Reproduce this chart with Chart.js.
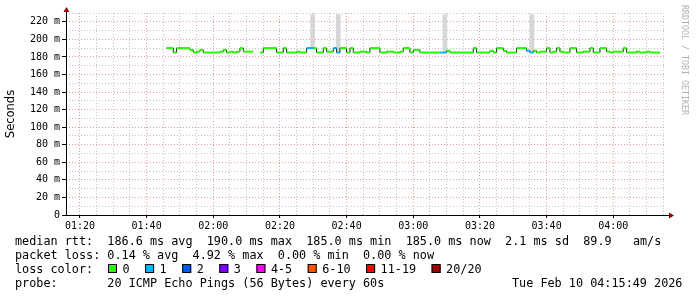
<!DOCTYPE html>
<html>
<head>
<meta charset="utf-8">
<script src="https://cdn.jsdelivr.net/npm/chart.js@4/dist/chart.umd.min.js"></script>
<style>
  html, body { margin: 0; padding: 0; background: #fff; }
  #wrap { position: relative; width: 697px; height: 297px; }
</style>
</head>
<body>
<div id="wrap"><canvas id="c" width="697" height="297"></canvas></div>
<script>
// ------------------------
// Data
// ------------------------
const stepTimes = ['01:46','01:48','01:49','01:53','01:54','01:55','01:56','01:57','02:02','02:03',
  '02:04','02:05','02:06','02:07','02:08','02:09','02:12','02:14','02:15','02:19',
  '02:21','02:22','02:25','02:26','02:28','02:30','02:31','02:33','02:34','02:36',
  '02:37','02:38','02:40','02:41','02:42','02:44','02:46','02:47','02:50','02:52',
  '02:54','02:56','02:57','02:59','03:00','03:02','03:08','03:10','03:11','03:18',
  '03:19','03:23','03:24','03:25','03:27','03:28','03:31','03:34','03:35','03:36',
  '03:37','03:38','03:40','03:41','03:42','03:43','03:44','03:45','03:47','03:49',
  '03:51','03:53','03:54','03:56','03:58','03:59','04:00','04:03','04:04','04:07',
  '04:08','04:10','04:11','04:14'];
const medianRtt = [190,185,190,188,185,186,188,185,186,188,
  185,186,185,186,190,186,null,185,190,185,
  190,185,186,185,190,190,185,190,186,190,
  185,190,185,190,185,186,185,190,185,186,
  185,186,190,185,188,185,185,187,185,190,
  185,187,185,190,187,185,190,187,185,187,
  185,186,190,185,186,190,186,185,190,185,
  186,190,185,190,186,185,186,190,185,186,
  185,186,185,185];
const lostPings = [0,0,0,0,0,0,0,0,0,0,
  0,0,0,0,0,0,0,0,0,0,
  0,0,0,0,1,0,0,0,0,1,
  1,0,0,0,0,0,0,0,0,0,
  0,0,0,0,0,0,1,0,0,0,
  0,0,0,0,0,0,0,1,1,0,
  0,0,0,0,0,0,0,0,0,0,
  0,0,0,0,0,0,0,0,0,0,
  0,0,0,0];

// smoke (spread of the 20 pings) where it shows
const smokeTimes = ['02:29:48','02:37:30','03:09:30','03:35:36'];
const smokeLow = [190, 185, 185, 185];
const smokeHigh = [228, 228, 228, 228];

const lossLabels = ['0','1','2','3','4-5','6-10','11-19','20/20'];
const lossColors = ['#26ff00','#00b8ff','#0059ff','#7e00ff','#ff00ff','#ff5500','#ff0000','#a10000'];

const xStart = '01:15:49';
const xEnd = '04:15:49';
const yMax = 230;

const statsLines = [
  'median rtt:  186.6 ms avg  190.0 ms max  185.0 ms min  185.0 ms now  2.1 ms sd  89.9   am/s',
  'packet loss: 0.14 % avg  4.92 % max  0.00 % min  0.00 % now'
];
const probeText = 'probe:       20 ICMP Echo Pings (56 Bytes) every 60s';
const stampText = 'Tue Feb 10 04:15:49 2026';

// ------------------------
// Helpers
// ------------------------
const toMin = (s) => {
    const p = s.split(':').map(Number);
    return p[0] * 60 + p[1] + (p[2] || 0) / 60;
};
const fmtMin = (v) => {
    const h = Math.floor(v / 60), m = Math.round(v % 60);
    return String(h).padStart(2, '0') + ':' + String(m).padStart(2, '0');
};
const lossColor = (n) => {
    if (n <= 3) return lossColors[n];
    if (n <= 5) return lossColors[4];
    if (n <= 10) return lossColors[5];
    if (n < 20) return lossColors[6];
    return lossColors[7];
};

const t = stepTimes.map(toMin);

// black step line (gives the thin vertical joins)
const stepPts = t.map((x, i) => ({ x, y: medianRtt[i] }));

// coloured horizontal pieces, one per sample
const hPts = [], hCol = [];
for (let i = 0; i < t.length - 1; i++) {
    if (medianRtt[i] === null) continue;
    const c = lossColor(lostPings[i]);
    hPts.push({ x: t[i], y: medianRtt[i] }, { x: t[i + 1], y: medianRtt[i] }, { x: t[i + 1], y: null });
    hCol.push(c, c, c);
}

const smokePts = smokeTimes.map((s, i) => ({ x: toMin(s), y: [smokeLow[i], smokeHigh[i]] }));

const MONO = '"DejaVu Sans Mono", monospace';
const MAJOR = '#e99c9c';
const MINOR = '#c4c4c4';

// ------------------------
// Extra drawing: axes, arrows, legend text
// ------------------------
const decor = {
    id: 'decor',
    afterDraw(chart) {
        const ctx = chart.ctx;
        const a = chart.chartArea;
        const x0 = Math.round(a.left) + 0.5;
        const y0 = Math.round(a.bottom) + 0.5;
        ctx.save();
        ctx.strokeStyle = '#000';
        ctx.lineWidth = 1;
        ctx.beginPath();
        ctx.moveTo(x0, y0);
        ctx.lineTo(x0, a.top - 2);
        ctx.moveTo(a.left - 4, y0);
        ctx.lineTo(a.right + 3, y0);
        ctx.stroke();
        ctx.fillStyle = '#8b0000';
        ctx.beginPath();
        ctx.moveTo(x0, a.top - 6);
        ctx.lineTo(x0 - 3, a.top - 1);
        ctx.lineTo(x0 + 3, a.top - 1);
        ctx.closePath();
        ctx.fill();
        ctx.beginPath();
        ctx.moveTo(a.right + 8, y0);
        ctx.lineTo(a.right + 3, y0 - 3);
        ctx.lineTo(a.right + 3, y0 + 3);
        ctx.closePath();
        ctx.fill();

        // vertical axis title
        ctx.fillStyle = '#000';
        ctx.font = '11.5px "DejaVu Sans", sans-serif';
        ctx.textAlign = 'center';
        ctx.textBaseline = 'middle';
        ctx.save();
        ctx.translate(11, 114);
        ctx.rotate(-Math.PI / 2);
        ctx.fillText('Seconds', 0, 0);
        ctx.restore();

        // watermark on the right
        ctx.save();
        ctx.fillStyle = '#b0b0b0';
        ctx.font = '8.3px ' + MONO;
        ctx.textAlign = 'left';
        ctx.translate(684, 5);
        ctx.rotate(Math.PI / 2);
        ctx.fillText('RRDTOOL / TOBI OETIKER', 0, 0);
        ctx.restore();

        // legend rows
        ctx.font = '11.8px ' + MONO;
        ctx.textAlign = 'left';
        ctx.textBaseline = 'alphabetic';
        ctx.fillStyle = '#000';
        ctx.fillText(statsLines[0], 15, 245);
        ctx.fillText(statsLines[1], 15, 259);
        ctx.fillText('loss color:', 15, 273);
        let lx = 108;
        lossLabels.forEach((lab, i) => {
            ctx.fillStyle = lossColors[i];
            ctx.fillRect(lx, 264, 9, 9);
            ctx.strokeStyle = '#000';
            ctx.strokeRect(lx + 0.5, 264.5, 8, 8);
            ctx.fillStyle = '#000';
            ctx.fillText(lab, lx + 14.5, 273);
            lx += lab.length * 7.1 + 30;
        });
        ctx.fillText(probeText, 15, 287);
        ctx.fillText(stampText, 512, 287);
        ctx.restore();
    }
};

new Chart(document.getElementById('c'), {
    type: 'line',
    data: {
        datasets: [
            {
                type: 'bar',
                data: smokePts,
                backgroundColor: '#d6d6d6',
                barThickness: 4,
                order: 3
            },
            {
                data: stepPts,
                stepped: 'before',
                borderColor: '#1a1a1a',
                borderWidth: 1,
                pointRadius: 0,
                spanGaps: false,
                order: 2
            },
            {
                data: hPts,
                borderWidth: 2,
                borderColor: '#26ff00',
                segment: { borderColor: c => hCol[c.p0DataIndex] },
                pointRadius: 0,
                spanGaps: false,
                order: 1
            }
        ]
    },
    options: {
        responsive: false,
        devicePixelRatio: 1,
        animation: false,
        layout: { padding: { top: 13, right: 31, left: 0, bottom: 0 } },
        plugins: { legend: { display: false }, tooltip: { enabled: false } },
        scales: {
            x: {
                type: 'linear',
                offset: false,
                min: toMin(xStart),
                max: toMin(xEnd),
                afterBuildTicks: (scale) => {
                    const ticks = [];
                    for (let m = Math.ceil(scale.min / 5) * 5; m <= scale.max; m += 5) ticks.push({ value: m });
                    scale.ticks = ticks;
                },
                afterFit: (scale) => { scale.height = 82; },
                ticks: {
                    autoSkip: false,
                    maxRotation: 0,
                    padding: 2,
                    color: '#000',
                    font: { family: MONO, size: 10 },
                    callback: v => (v % 20 === 0 ? fmtMin(v) : '')
                },
                grid: {
                    offset: false,
                    color: c => (c.tick && c.tick.value % 20 === 0 ? MAJOR : MINOR),
                    tickLength: 3,
                    tickColor: c => (c.tick && c.tick.value % 20 === 0 ? '#000' : 'rgba(0,0,0,0)')
                },
                border: { display: false, dash: [1, 2] }
            },
            y: {
                min: 0,
                max: yMax,
                afterFit: (scale) => { scale.width = 66; },
                ticks: {
                    stepSize: 10,
                    autoSkip: false,
                    padding: 2,
                    color: '#000',
                    font: { family: MONO, size: 10 },
                    callback: v => (v % 20 === 0 ? (v === 0 ? '0' : v + ' m') : '')
                },
                grid: {
                    color: c => (c.tick && c.tick.value % 20 === 0 ? MAJOR : MINOR),
                    tickLength: 4,
                    tickColor: c => (c.tick && c.tick.value % 20 === 0 ? '#000' : 'rgba(0,0,0,0)')
                },
                border: { display: false, dash: [1, 2] }
            }
        }
    },
    plugins: [decor]
});
</script>
</body>
</html>
